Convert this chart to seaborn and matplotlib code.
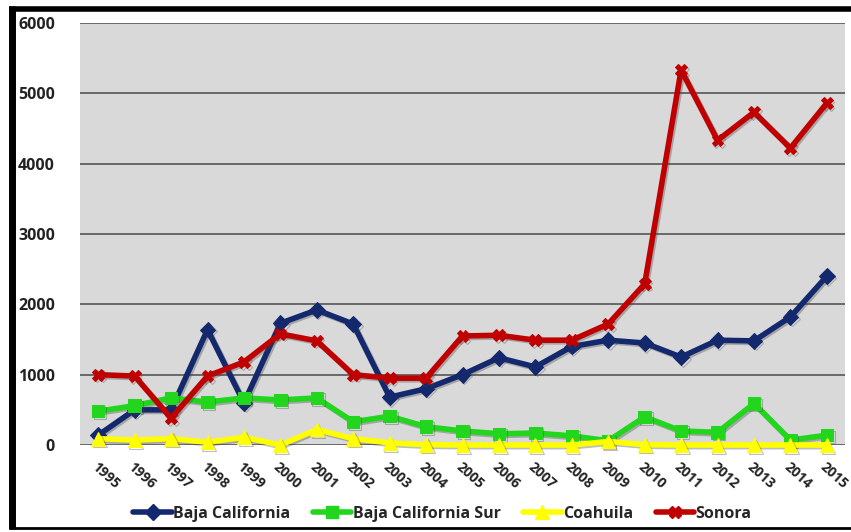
"""Annual series by state, 1995-2015, drawn as marked lines on a grey panel."""

import matplotlib

matplotlib.use("Agg")

import matplotlib.pyplot as plt
import matplotlib.patheffects as pe
import pandas as pd
import seaborn as sns
from matplotlib.lines import Line2D

years = list(range(1995, 2016))

baja_california = [140, 500, 500, 1640, 600, 1730, 1920, 1720, 680, 800, 1000,
                   1240, 1110, 1400, 1490, 1450, 1250, 1490, 1480, 1820, 2400]
baja_california_sur = [480, 560, 670, 610, 670, 640, 670, 330, 410, 260, 200,
                       160, 170, 130, 60, 400, 200, 180, 590, 70, 140]
coahuila = [90, 70, 90, 40, 110, 0, 220, 90, 30, 5, 0,
            0, 0, 0, 50, 5, 0, 0, 0, 0, 0]
sonora = [1000, 980, 380, 980, 1180, 1580, 1480, 1000, 950, 950, 1550,
          1560, 1490, 1490, 1720, 2290, 5330, 4330, 4730, 4220, 4860]

states = ["Baja California", "Baja California Sur", "Coahuila", "Sonora"]
colors = ["#14286E", "#22D61E", "#FFFF00", "#C00000"]
markers = ["D", "s", "^", "X"]
marker_sizes = [8, 9, 10, 8.5]

df = pd.concat(
    [
        pd.DataFrame({"year": years, "value": vals, "state": name})
        for name, vals in zip(
            states, [baja_california, baja_california_sur, coahuila, sonora]
        )
    ],
    ignore_index=True,
)

sns.set_theme(style="white")
plt.rcParams["font.family"] = ["Open Sans", "DejaVu Sans"]

fig = plt.figure(figsize=(8.51, 5.32), dpi=100)
ax = fig.add_axes([0.094, 0.1635, 0.899, 0.7935])
ax.set_facecolor("#D9D9D9")

shadow = [pe.SimpleLineShadow(offset=(1.2, -1.2), shadow_color="#444444", alpha=0.35),
          pe.Normal()]

for name, color, marker, ms in zip(states, colors, markers, marker_sizes):
    sub = df[df["state"] == name]
    sns.lineplot(data=sub, x="year", y="value", ax=ax, color=color, lw=4,
                 marker=marker, markersize=ms, markeredgecolor=color,
                 path_effects=shadow, legend=False, clip_on=False)

ax.set_xlim(1994.5, 2015.5)
ax.set_ylim(0, 6000)
ax.set_yticks(range(0, 6001, 1000))
ax.set_xticks(years)
ax.set_xticklabels([str(y) for y in years], rotation=-42, ha="left",
                   rotation_mode="anchor", fontsize=10, fontweight="bold",
                   color="#222222")
ax.tick_params(axis="y", labelsize=11.5, pad=12)
for lab in ax.get_yticklabels():
    lab.set_fontweight("bold")
    lab.set_color("#222222")
ax.tick_params(axis="x", pad=5)
ax.yaxis.grid(True, color="#555555", lw=1.2)
ax.set_axisbelow(True)
for spine in ax.spines.values():
    spine.set_visible(False)
ax.set_xlabel("")
ax.set_ylabel("")

handles = [
    Line2D([0], [0], color=c, lw=4, marker=m, markersize=s, markeredgecolor=c)
    for c, m, s in zip(colors, markers, marker_sizes)
]
fig.legend(handles, states, loc="center", bbox_to_anchor=(0.52, 0.034),
           ncol=4, frameon=False, handlelength=2.4, handletextpad=0.1,
           columnspacing=1.4, prop={"weight": "bold", "size": 11.5})

# black frame on top, left and bottom
frame = dict(color="black", solid_capstyle="butt", transform=fig.transFigure)
fig.add_artist(Line2D([0.01, 1.0], [0.984, 0.984], lw=4, **frame))
fig.add_artist(Line2D([0.014, 0.014], [0.006, 0.988], lw=5, **frame))
fig.add_artist(Line2D([0.01, 1.0], [0.008, 0.008], lw=2, **frame))

fig.savefig("out.png", dpi=100)
